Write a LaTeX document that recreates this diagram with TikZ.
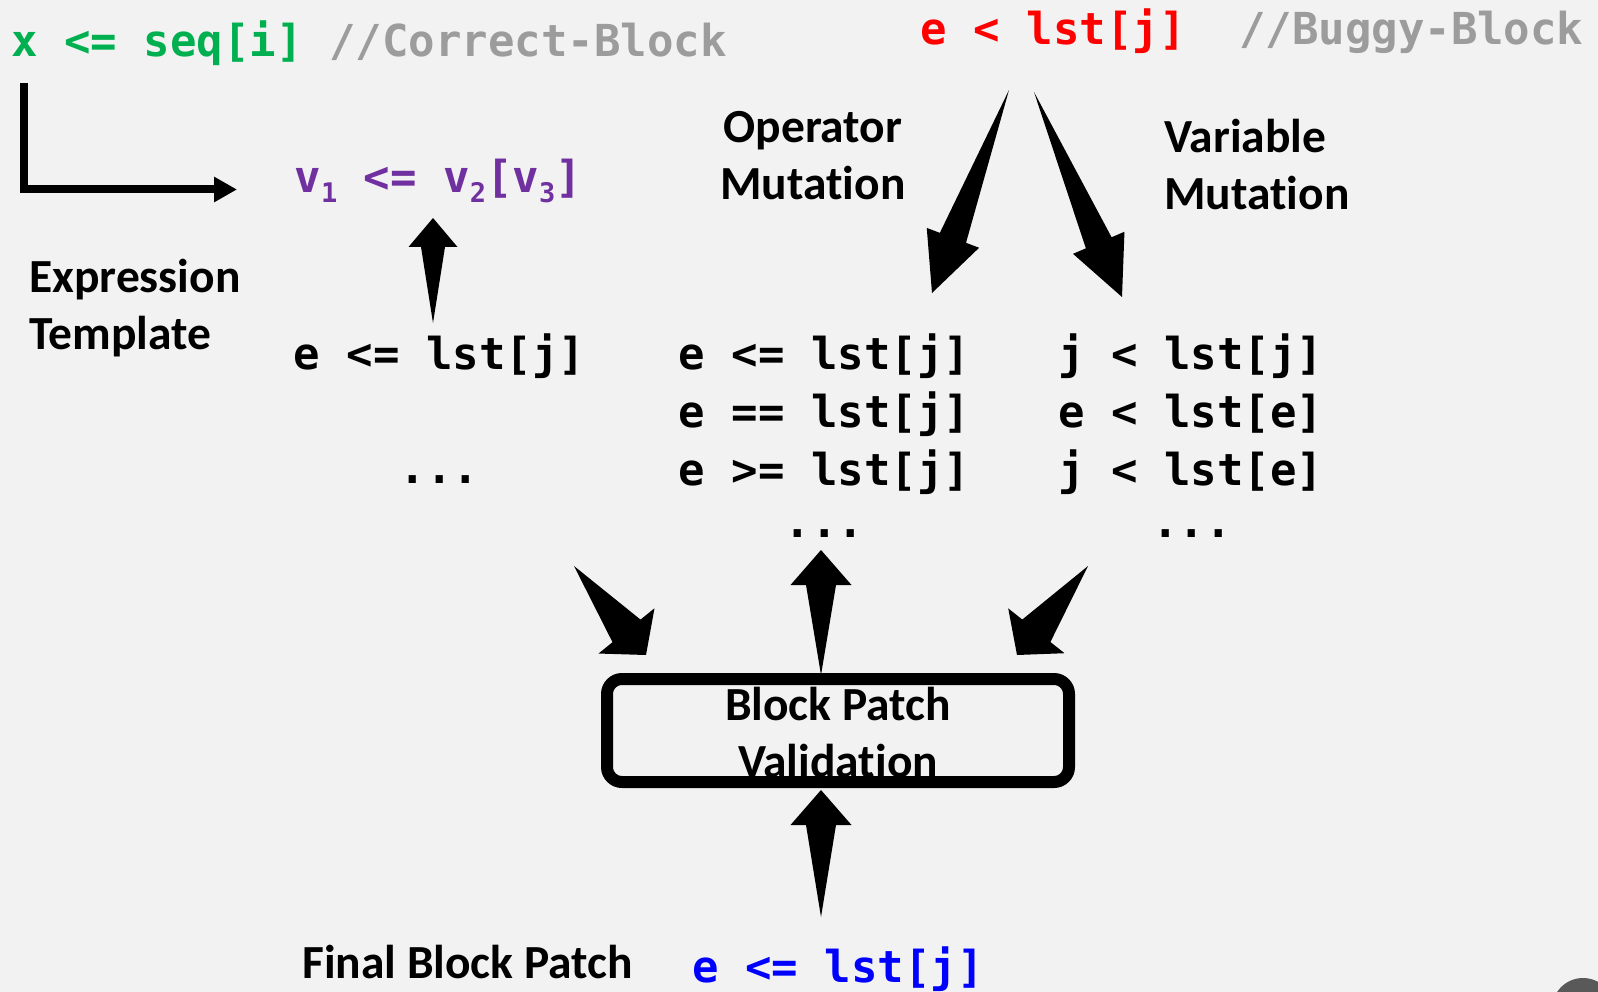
\documentclass[tikz,border=0pt]{standalone}
\usepackage{fontspec}
\setmainfont{Carlito}[Ligatures=NoCommon]
\newfontfamily\codefont{DejaVu Sans Mono}
\usetikzlibrary{arrows.meta,positioning,calc}

\definecolor{bg}{HTML}{F2F2F2}
\definecolor{okgreen}{HTML}{00B050}
\definecolor{bugred}{HTML}{FF0000}
\definecolor{tplpurple}{HTML}{7030A0}
\definecolor{fixblue}{HTML}{0000FF}
\definecolor{cmtgray}{HTML}{9C9C9C}
\definecolor{knob}{HTML}{595959}

\newcommand{\vsub}[1]{\raisebox{-10pt}{\fontsize{27}{27}\selectfont#1}}
% tail, tip, head length, head half width, shaft half width
\newcommand{\fatarrow}[5]{%
  \path ($(#2)!#3!(#1)$) coordinate (fah);
  \fill[arrowfill] (#1) -- ($(fah)!#5!90:(#2)$) -- ($(fah)!#4!90:(#2)$) -- (#2)
    -- ($(fah)!#4!-90:(#2)$) -- ($(fah)!#5!-90:(#2)$) -- cycle;
}

\begin{document}
\begin{tikzpicture}[
  x=1pt, y=-1pt,
  code/.style={font=\fontsize{44}{53}\selectfont\codefont\bfseries,
    inner sep=0pt, anchor=base west},
  cmt/.style={code, text=cmtgray},
  lab/.style={font=\fontsize{47.5}{57}\selectfont\bfseries, inner sep=0pt, align=left},
  valbox/.style={draw=black, line width=12pt, rounded corners=15pt,
    minimum width=462pt, minimum height=103pt, inner sep=0pt},
  elbow/.style={-{Triangle[length=23pt,width=24pt]}, line width=8pt},
  arrowfill/.style={fill=black}
]
  \useasboundingbox (0,0) rectangle (1598,992);
  \fill[bg] (0,0) rectangle (1598,992);
  \fill[knob] (1583,1009) circle[radius=31pt];

  \node[code, text=okgreen] (ok) at (11,57) {x <= seq[i]};
  \node[cmt] (okc) at ([xshift=26.5pt]ok.base east) {//Correct-Block};
  \node[code, text=bugred] (bug) at (920.6,45) {e < lst[j]};
  \node[cmt] (bugc) at ([xshift=53pt]bug.base east) {//Buggy-Block};
  \node[code, text=tplpurple] (tpl) at (294.5,193) {v\vsub{1} <= v\vsub{2}[v\vsub{3}]};

  \node[lab, anchor=base west] (ex) at (29,349) {Expression\\Template};
  \node[lab, align=center, anchor=base] (op) at (813,200) {Operator\\Mutation};
  \node[lab, anchor=base west] (var) at (1164,210) {Variable\\Mutation};

  \node[code] (c1a) at (293.5,369) {e <= lst[j]};
  \node[code] (c1d) at ([xshift=106pt,yshift=-114pt]c1a.base west) {...};

  \node[code] (c2a) at (678.6,369) {e <= lst[j]};
  \node[code] (c2b) at ([yshift=-58pt]c2a.base west) {e == lst[j]};
  \node[code] (c2c) at ([yshift=-58pt]c2b.base west) {e >= lst[j]};
  \node[code] (c2d) at ([xshift=106pt,yshift=-52pt]c2c.base west) {...};

  \node[code] (c3a) at (1058,369) {j < lst[j]};
  \node[code] (c3b) at ([yshift=-58pt]c3a.base west) {e < lst[e]};
  \node[code] (c3c) at ([yshift=-58pt]c3b.base west) {j < lst[e]};
  \node[code] (c3d) at ([xshift=94pt,yshift=-52pt]c3c.base west) {...};

  \node[valbox, label={[lab, align=center, yshift=-2pt]center:{Block Patch\\Validation}}] (val) at (838,730.5) {};

  \node[lab, anchor=base west] (fb) at (302,978) {Final Block Patch};
  \node[code, text=fixblue] (fix) at (692,982) {e <= lst[j]};

  \coordinate (tplT) at (433,323);  \coordinate (tplH) at (433,218);
  \coordinate (opT) at (1009,90);   \coordinate (opH) at (932,293);
  \coordinate (varT) at (1034,92);  \coordinate (varH) at (1122,297);
  \coordinate (inL) at (574,566);   \coordinate (inLH) at (646,655);
  \coordinate (inR) at (1088,566);  \coordinate (inRH) at (1017,655);
  \coordinate (upT) at (821,675);   \coordinate (upH) at (821,550);
  \coordinate (finT) at (821,917);  \coordinate (finH) at (821,790);

  \draw[elbow] ([xshift=13pt,yshift=-26pt]ok.base west) |- ([xshift=-57.5pt,yshift=3.5pt]tpl.base west);
  \fatarrow{tplT}{tplH}{29pt}{24.5pt}{12pt}
  \fatarrow{opT}{opH}{59pt}{28pt}{14pt}
  \fatarrow{varT}{varH}{59pt}{28pt}{14pt}
  \fatarrow{inL}{inLH}{31pt}{36pt}{18pt}
  \fatarrow{inR}{inRH}{31pt}{36pt}{18pt}
  \fatarrow{upT}{upH}{35pt}{30.5pt}{15pt}
  \fatarrow{finT}{finH}{35pt}{30.5pt}{15pt}
\end{tikzpicture}
\end{document}
